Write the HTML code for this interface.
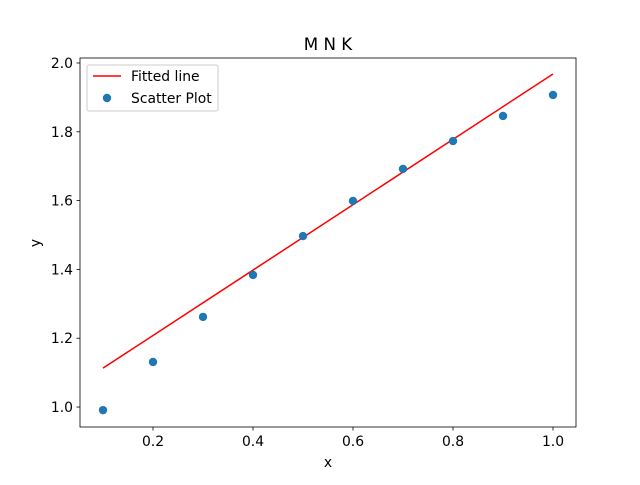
<!DOCTYPE html>
<html><head><meta charset="utf-8"><style>
body{margin:0;background:#fff;}
svg text{font-family:"DejaVu Sans","Liberation Sans",sans-serif;}
</style></head><body>
<svg id="chart" width="640" height="480" xmlns="http://www.w3.org/2000/svg">
<rect width="640" height="480" fill="#fff"/>
<text x="328" y="50" font-size="16.7" text-anchor="middle">M N K</text>
<g id="plot"></g>
<text x="328" y="467" font-size="13.9" text-anchor="middle">x</text>
<text x="40" y="243" font-size="13.9" text-anchor="middle" transform="rotate(-90 40 243)">y</text>
</svg>
<script>
const xs=[0.1,0.2,0.3,0.4,0.5,0.6,0.7,0.8,0.9,1.0];
const ys=[0.991,1.131,1.262,1.384,1.497,1.599,1.692,1.773,1.846,1.907];
const lineX=[0.1,1.0];
const lineY=[1.113,1.968];
const xTicks=[0.2,0.4,0.6,0.8,1.0];
const yTicks=[1.0,1.2,1.4,1.6,1.8,2.0];
const L=80,R=576,T=58,B=427,xMin=0.054,xMax=1.046,yMin=0.942,yMax=2.0145;
const sx=v=>L+(v-xMin)/(xMax-xMin)*(R-L);
const sy=v=>B-(v-yMin)/(yMax-yMin)*(B-T);
const NS="http://www.w3.org/2000/svg";
const g=document.getElementById('plot');
function mk(t,a){const e=document.createElementNS(NS,t);for(const k in a)e.setAttribute(k,a[k]);g.appendChild(e);return e;}
xTicks.forEach(v=>{
 const t=mk('line',{x1:sx(v),x2:sx(v),y1:B,y2:B+3.5,stroke:'#000','stroke-width':0.8});
 
 
 const l=mk('text',{x:sx(v),y:B+19,'font-size':13.9,'text-anchor':'middle'});
 l.textContent=v.toFixed(1);
 
 
});
yTicks.forEach(v=>{
 const t=mk('line',{x1:L-3.5,x2:L,y1:sy(v),y2:sy(v),stroke:'#000','stroke-width':0.8});
 
 
 const l=mk('text',{x:L-7,y:sy(v)+5,'font-size':13.9,'text-anchor':'end'});
 l.textContent=v.toFixed(1);
 
 
});
const ln=mk('line',{x1:sx(lineX[0]),y1:sy(lineY[0]),x2:sx(lineX[1]),y2:sy(lineY[1]),stroke:'#ff0000','stroke-width':1.5});


xs.forEach((x,i)=>{
 const c=mk('circle',{cx:sx(x),cy:sy(ys[i]),r:4.2,fill:'#1f77b4'});
 
 
});
const fr=mk('rect',{x:L,y:T,width:R-L,height:B-T,fill:'none',stroke:'#000','stroke-width':0.8});


const lg=mk('rect',{x:87,y:65,width:131,height:46,fill:'#fff',stroke:'#ccc','stroke-width':1,rx:2});


const ll=mk('line',{x1:93,x2:121,y1:76,y2:76,stroke:'#ff0000','stroke-width':1.5});


const lt=mk('text',{x:131,y:81,'font-size':13.9});
lt.textContent='Fitted line';


const lc=mk('circle',{cx:107,cy:98,r:4.2,fill:'#1f77b4'});


const lt2=mk('text',{x:131,y:103,'font-size':13.9});
lt2.textContent='Scatter Plot';


</script>
</body></html>
